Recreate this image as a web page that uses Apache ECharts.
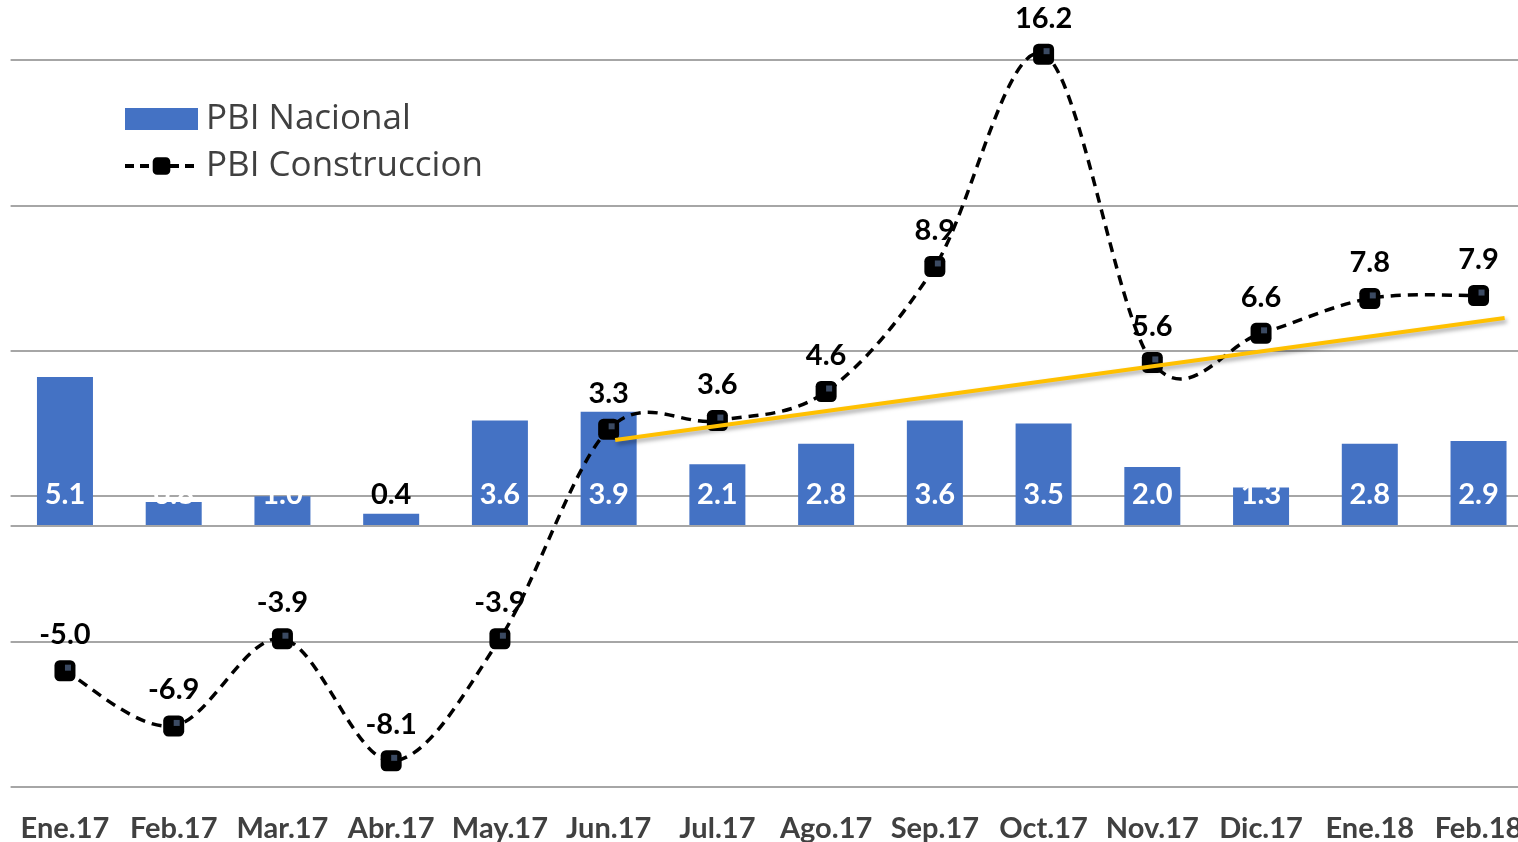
<!DOCTYPE html>
<html>
<head>
<meta charset="utf-8">
<script src="https://cdn.jsdelivr.net/npm/echarts@6/dist/echarts.min.js"></script>
<style>
html,body{margin:0;padding:0;background:#fff;}
#chart{width:1518px;height:842px;}
</style>
</head>
<body>
<div id="chart"></div>
<script>
/*数据*/
var meses = ['Ene.17','Feb.17','Mar.17','Abr.17','May.17','Jun.17','Jul.17','Ago.17','Sep.17','Oct.17','Nov.17','Dic.17','Ene.18','Feb.18'];
var pbiNacional = [5.1, 0.8, 1.0, 0.4, 3.6, 3.9, 2.1, 2.8, 3.6, 3.5, 2.0, 1.3, 2.8, 2.9];
var pbiConstruccion = [-5.0, -6.9, -3.9, -8.1, -3.9, 3.3, 3.6, 4.6, 8.9, 16.2, 5.6, 6.6, 7.8, 7.9];
// tendencia (posicion en indice de categoria)
var tendenciaX = [5.06, 13.24];
var tendenciaY = [2.93, 7.13];

var labelFont = 'Lato, "Liberation Sans", sans-serif';

var barData = pbiNacional.map(function(v){
	// el valor pequeño (0.4) sale en negro, el resto en blanco
	if(v < 0.5){
		return {value: v, label: {color: '#000'}};
	}
	return v;
});

// linea suavizada estilo Excel: curva bezier por los puntos (en pixeles)
function renderSmooth(params, api){
	if(params.dataIndex !== 0){
		return;
	}
	var pts = [];
	for(var i = 0; i < pbiConstruccion.length; i++){
		pts.push(api.coord([i, pbiConstruccion[i]]));
	}
	var d = 'M' + pts[0][0] + ' ' + pts[0][1];
	for(var j = 0; j < pts.length - 1; j++){
		var p0 = pts[Math.max(j - 1, 0)];
		var p1 = pts[j];
		var p2 = pts[j + 1];
		var p3 = pts[Math.min(j + 2, pts.length - 1)];
		var c1x = p1[0] + (p2[0] - p0[0]) / 6;
		var c1y = p1[1] + (p2[1] - p0[1]) / 6;
		var c2x = p2[0] - (p3[0] - p1[0]) / 6;
		var c2y = p2[1] - (p3[1] - p1[1]) / 6;
		d += ' C' + c1x + ' ' + c1y + ' ' + c2x + ' ' + c2y + ' ' + p2[0] + ' ' + p2[1];
	}
	return {
		type: 'path',
		shape: {pathData: d},
		style: {fill: null, stroke: '#000', lineWidth: 3.5, lineDash: [10, 7]}
	};
}

var ichart = echarts.init(document.getElementById('chart'));
var option = {
	animation: false,
	grid: {left: 10.6, width: 1522.3, top: 60, bottom: 55, containLabel: false, outerBoundsMode: 'none'},
	legend: {
		orient: 'vertical',
		left: 123,
		top: 101,
		padding: 0,
		itemWidth: 73,
		itemHeight: 22,
		itemGap: 11,
		data: [
			{name: 'PBI Nacional', icon: 'rect'},
			{name: 'PBI Construccion', lineStyle: {color: '#000', width: 4, type: [9, 6], opacity: 1}}
		],
		textStyle: {
			fontFamily: '"Open Sans", "Noto Sans", sans-serif',
			fontSize: 35,
			lineHeight: 36,
			color: '#404040',
			padding: [0, 0, 0, 3]
		}
	},
	xAxis: [
		{
			type: 'category',
			data: meses,
			axisLine: {show: false},
			axisTick: {show: false},
			axisLabel: {
				interval: 0,
				margin: 27,
				fontFamily: labelFont,
				fontWeight: 'bold',
				fontSize: 29,
				color: '#404040'
			}
		},
		{
			type: 'value',
			min: -0.5,
			max: 13.5,
			show: false
		}
	],
	yAxis: [
		{
			type: 'value',
			min: -9,
			max: 16,
			interval: 5,
			axisLabel: {show: false},
			axisLine: {show: false},
			axisTick: {show: false},
			splitLine: {show: true, lineStyle: {color: '#a6a6a6', width: 2}}
		}
	],
	series: [
		{
			name: 'PBI Nacional',
			type: 'bar',
			data: barData,
			barWidth: 56,
			itemStyle: {color: '#4472C4'},
			label: {
				show: true,
				position: 'insideBottom',
				distance: 16,
				color: '#fff',
				fontFamily: labelFont,
				fontWeight: 'bold',
				fontSize: 29,
				formatter: function(p){ return p.value.toFixed(1); }
			},
			markLine: {
				silent: true,
				symbol: 'none',
				label: {show: false},
				lineStyle: {color: '#a6a6a6', width: 2, type: 'solid'},
				data: [{yAxis: 0}]
			},
			z: 2
		},
		{
			name: 'curva',
			type: 'custom',
			data: pbiConstruccion,
			renderItem: renderSmooth,
			silent: true,
			z: 3
		},
		{
			name: 'PBI Construccion',
			type: 'line',
			data: pbiConstruccion,
			clip: false,
			symbol: 'roundRect',
			symbolSize: 21,
			itemStyle: {color: '#000'},
			lineStyle: {color: '#000', width: 0, opacity: 0},
			label: {
				show: true,
				position: 'top',
				distance: 11,
				color: '#000',
				fontFamily: labelFont,
				fontWeight: 'bold',
				fontSize: 29,
				formatter: function(p){ return p.value.toFixed(1); }
			},
			z: 4
		},
		{
			name: 'punto',
			type: 'line',
			data: pbiConstruccion,
			clip: false,
			silent: true,
			symbol: 'rect',
			symbolSize: 6,
			symbolOffset: [3, -3],
			itemStyle: {color: '#3b4a62'},
			lineStyle: {width: 0, opacity: 0},
			z: 5
		},
		{
			name: 'Tendencia',
			type: 'line',
			xAxisIndex: 1,
			data: tendenciaX.map(function(x, i){ return [x, tendenciaY[i]]; }),
			symbol: 'none',
			clip: false,
			silent: true,
			lineStyle: {
				color: '#FFC000',
				width: 4,
				shadowColor: 'rgba(0,0,0,0.35)',
				shadowBlur: 4,
				shadowOffsetX: 2,
				shadowOffsetY: 3
			},
			z: 6
		}
	]
};
ichart.setOption(option);
</script>
</body>
</html>
